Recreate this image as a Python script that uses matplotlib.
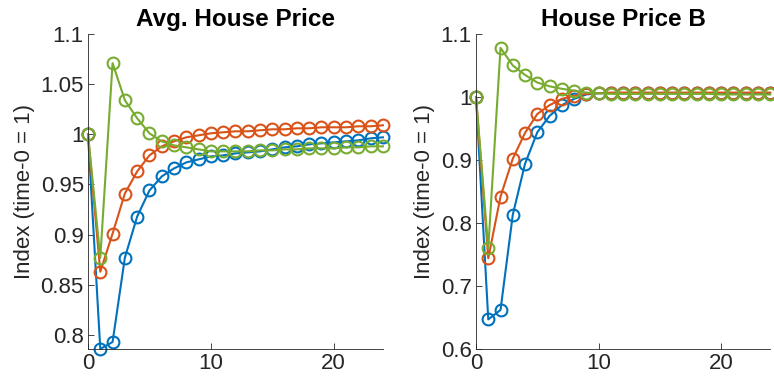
import numpy as np
import matplotlib
matplotlib.use('Agg')
import matplotlib.pyplot as plt

plt.rcParams['font.family'] = ['Liberation Sans', 'DejaVu Sans']

# time steps
t = np.arange(0, 25)

# Avg. House Price
avg_blue = [1.0, 0.786, 0.793, 0.877, 0.918, 0.944, 0.958, 0.966, 0.972, 0.975,
            0.978, 0.979, 0.981, 0.982, 0.983, 0.985, 0.987, 0.988, 0.990, 0.991,
            0.992, 0.993, 0.994, 0.996, 0.997]
avg_orange = [1.0, 0.863, 0.901, 0.941, 0.963, 0.979, 0.988, 0.993, 0.997, 0.999,
              1.001, 1.002, 1.003, 1.003, 1.004, 1.005, 1.005, 1.006, 1.006, 1.007,
              1.007, 1.007, 1.008, 1.008, 1.009]
avg_green = [1.0, 0.877, 1.071, 1.034, 1.016, 1.001, 0.993, 0.989, 0.987, 0.985,
             0.983, 0.983, 0.983, 0.983, 0.984, 0.984, 0.985, 0.985, 0.986, 0.986,
             0.986, 0.987, 0.987, 0.988, 0.988]

# House Price B
b_blue = [1.0, 0.647, 0.662, 0.813, 0.894, 0.944, 0.970, 0.987, 0.997, 1.004,
          1.006, 1.006, 1.006, 1.006, 1.006, 1.006, 1.006, 1.006, 1.006, 1.006,
          1.006, 1.006, 1.006, 1.006, 1.006]
b_orange = [1.0, 0.744, 0.842, 0.902, 0.943, 0.973, 0.987, 0.997, 1.002, 1.005,
            1.006, 1.007, 1.007, 1.007, 1.007, 1.007, 1.007, 1.007, 1.007, 1.007,
            1.007, 1.007, 1.007, 1.007, 1.007]
b_green = [1.0, 0.760, 1.078, 1.050, 1.035, 1.023, 1.017, 1.013, 1.010, 1.007,
           1.006, 1.005, 1.005, 1.005, 1.005, 1.005, 1.005, 1.005, 1.005, 1.005,
           1.004, 1.004, 1.004, 1.004, 1.004]

colors = ['#0072BD', '#D95319', '#77AC30']
axis_col = '#262626'

fig = plt.figure(figsize=(7.74, 3.82), dpi=100)
ax1 = fig.add_axes([0.1137, 0.0864, 0.381, 0.8246])
ax2 = fig.add_axes([0.615, 0.0864, 0.380, 0.8246])

panels = [
    (ax1, 'Avg. House Price', [avg_blue, avg_orange, avg_green], (0.786, 1.1),
     [0.8, 0.85, 0.9, 0.95, 1.0, 1.05, 1.1], ['0.8', '0.85', '0.9', '0.95', '1', '1.05', '1.1']),
    (ax2, 'House Price B', [b_blue, b_orange, b_green], (0.6, 1.1),
     [0.6, 0.7, 0.8, 0.9, 1.0, 1.1], ['0.6', '0.7', '0.8', '0.9', '1', '1.1']),
]

for ax, title, series, ylim, yt, ytl in panels:
    for s, c in zip(series, colors):
        ax.plot(t, s, color=c, lw=1.5, marker='o', ms=8.5, mfc='none', mew=1.5,
                clip_on=False)
    ax.set_xlim(0, 24)
    ax.set_ylim(*ylim)
    ax.set_xticks([0, 10, 20])
    ax.set_yticks(yt)
    ax.set_yticklabels(ytl)
    ax.set_title(title, fontsize=17.5, fontweight='bold', pad=6)
    ax.set_ylabel('Index (time-0 = 1)', fontsize=16, color=axis_col, labelpad=4)
    for sp in ['top', 'right']:
        ax.spines[sp].set_visible(False)
    for sp in ['left', 'bottom']:
        ax.spines[sp].set_color(axis_col)
        ax.spines[sp].set_linewidth(0.6)
    ax.tick_params(direction='in', length=4, width=0.6, labelsize=16,
                   colors=axis_col, pad=3)

fig.savefig('out.png', dpi=100)
